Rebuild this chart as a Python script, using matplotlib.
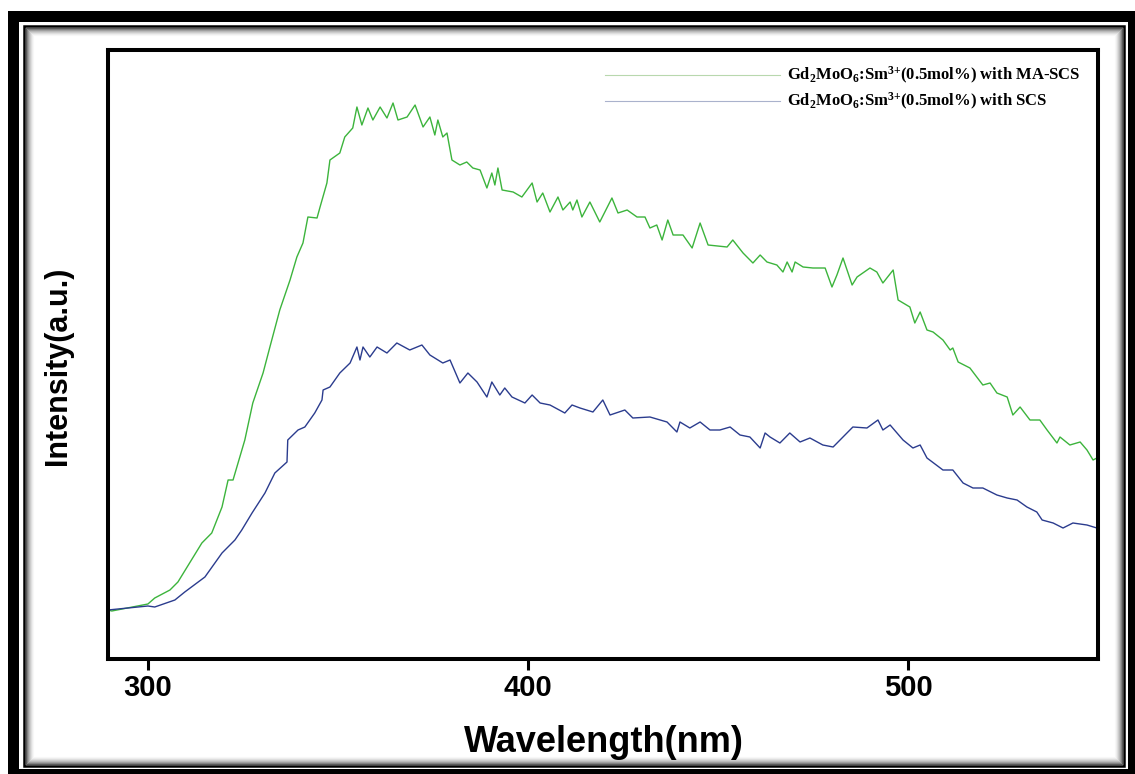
import numpy as np
import matplotlib
matplotlib.use("Agg")
import matplotlib.pyplot as plt
from matplotlib.patches import Rectangle
from matplotlib.lines import Line2D

plt.rcParams["mathtext.default"] = "regular"

# emission spectra (wavelength nm, intensity a.u.)
wl_ma = [289.5, 290.5, 300.0, 301.8, 305.8, 307.9, 314.2, 316.8, 319.5, 321.1, 322.4, 325.5,
         327.6, 330.3, 332.1, 334.7, 337.4, 339.2, 340.8, 342.1, 344.5, 345.3, 347.1, 347.9,
         350.5, 351.8, 353.9, 355.0, 356.3, 357.9, 359.2, 361.1, 362.9, 364.5, 365.8, 368.2,
         370.3, 372.4, 374.2, 375.5, 376.3, 377.6, 378.7, 380.0, 382.1, 383.9, 385.5, 387.4,
         389.2, 390.5, 391.3, 392.1, 393.2, 396.1, 398.4, 401.1, 402.4, 403.9, 405.8, 407.9,
         409.2, 411.1, 411.8, 412.9, 414.2, 416.3, 418.9, 422.1, 423.7, 426.1, 428.7, 430.8,
         432.1, 433.9, 435.3, 436.8, 438.2, 440.8, 443.2, 445.3, 447.4, 452.4, 453.9, 456.6,
         459.2, 461.1, 462.9, 465.5, 467.1, 468.2, 469.5, 470.3, 472.4, 475.0, 478.2, 480.0,
         481.3, 482.9, 485.3, 486.6, 490.0, 491.8, 493.4, 496.1, 497.4, 500.5, 501.8, 503.2,
         505.0, 506.6, 509.2, 511.1, 511.8, 513.2, 516.3, 519.7, 521.6, 523.4, 526.1, 527.6,
         529.5, 532.1, 534.7, 536.6, 539.2, 540.0, 542.6, 545.3, 547.1, 548.7, 549.7]
int_ma = [49, 48, 55, 61, 69, 77, 116, 126, 152, 179, 179, 219,
          256, 286, 312, 349, 379, 402, 416, 442, 441, 452, 476, 499,
          506, 522, 531, 552, 534, 551, 539, 552, 541, 556, 539, 542,
          554, 532, 542, 524, 539, 522, 526, 499, 494, 497, 491, 489,
          471, 486, 474, 491, 469, 467, 462, 476, 457, 466, 447, 462,
          449, 457, 449, 459, 442, 457, 437, 461, 446, 449, 442, 442,
          431, 434, 419, 439, 424, 424, 411, 436, 414, 412, 419, 406,
          396, 404, 397, 394, 387, 397, 387, 397, 392, 391, 391, 372,
          384, 401, 374, 382, 391, 387, 376, 389, 359, 352, 336, 347,
          329, 327, 319, 309, 311, 297, 291, 274, 276, 266, 262, 244,
          252, 239, 239, 229, 216, 222, 214, 217, 209, 199, 201]

wl_scs = [289.5, 300.0, 301.8, 307.1, 309.7, 315.0, 319.5, 322.9, 324.7, 327.4, 330.8, 333.4,
          336.6, 336.8, 339.5, 341.3, 343.9, 345.8, 346.1, 347.9, 350.5, 353.2, 355.0, 355.8,
          356.6, 358.4, 360.3, 362.9, 365.5, 368.9, 372.1, 374.2, 377.6, 379.5, 382.1, 384.2,
          386.6, 389.2, 390.5, 392.6, 393.9, 395.8, 399.2, 401.1, 403.2, 405.8, 409.7, 411.6,
          413.7, 417.1, 419.7, 421.6, 425.5, 427.6, 432.1, 436.6, 439.2, 440.0, 442.6, 445.3,
          447.9, 450.5, 453.2, 455.8, 458.4, 461.1, 462.4, 463.7, 466.3, 468.9, 471.6, 474.2,
          477.6, 480.3, 482.9, 485.5, 489.2, 492.1, 493.4, 495.3, 498.7, 501.3, 503.2, 505.0,
          509.2, 511.8, 514.5, 517.1, 519.7, 523.4, 526.1, 528.7, 531.3, 533.9, 535.3, 538.2,
          540.8, 543.4, 547.1, 549.7]
int_scs = [49, 53, 52, 59, 67, 82, 106, 119, 129, 146, 166, 186,
           197, 219, 229, 232, 246, 259, 269, 272, 286, 296, 312, 299,
           312, 302, 312, 306, 316, 309, 314, 304, 296, 299, 276, 286,
           277, 262, 277, 264, 271, 262, 256, 264, 256, 254, 246, 254,
           251, 247, 259, 244, 249, 241, 242, 237, 227, 237, 231, 237,
           229, 229, 232, 224, 222, 211, 226, 222, 216, 226, 217, 221,
           214, 212, 222, 232, 231, 239, 229, 234, 219, 211, 214, 201,
           189, 189, 176, 171, 171, 164, 161, 159, 152, 147, 139, 136,
           131, 136, 134, 131]

labels = [r"Gd$_2$MoO$_6$:Sm$^{3{+}}$(0.5mol%) with MA-SCS",
          r"Gd$_2$MoO$_6$:Sm$^{3{+}}$(0.5mol%) with SCS"]
xticks = [300, 400, 500]

W, H = 1135, 774
fig = plt.figure(figsize=(W / 100, H / 100), dpi=100)


def px(x0, y0, x1, y1, **kw):
    # rectangle given in picture pixels (y from top), kept behind the axes
    r = Rectangle((x0 / W, 1 - y1 / H), (x1 - x0) / W, (y1 - y0) / H,
                  transform=fig.transFigure, zorder=-5, **kw)
    fig.patches.append(r)


# picture frame with inner shadow
px(8, 11, 1140, 780, facecolor="black", edgecolor="none")
px(19, 22, 1128, 769, facecolor="white", edgecolor="none")
px(24, 26, 1124, 766, facecolor="none", edgecolor="black", linewidth=1.8)
for i, g in enumerate([0.35, 0.5, 0.62, 0.72, 0.8, 0.87, 0.93, 0.97]):
    px(26 + i, 28 + i, 1122 - i, 764 - i, facecolor="none",
       edgecolor=str(g), linewidth=0.8)

ax = fig.add_axes([108 / W, 1 - 659 / H, 990 / W, 609 / H])
ax.patch.set_alpha(0)
ax.plot(wl_ma, int_ma, color="#3cb43c", lw=1.0)
ax.plot(wl_scs, int_scs, color="#2b3c8e", lw=1.0)
ax.set_xlim(289.5, 550)
ax.set_ylim(0, 609)
ax.set_yticks([])
ax.set_xticks(xticks)
ax.tick_params(axis="x", direction="out", length=8, width=2.2, pad=3,
               labelsize=21)
for lab in ax.get_xticklabels():
    lab.set_fontfamily("Liberation Sans")
    lab.set_fontweight("bold")
for s in ax.spines.values():
    s.set_linewidth(2.9)

handles = [Line2D([], [], color="#b8d8ae", lw=0.8),
           Line2D([], [], color="#aab2cc", lw=0.8)]
ax.legend(handles, labels, loc="upper right", bbox_to_anchor=(0.982, 0.975),
          frameon=False, handlelength=10.5, handletextpad=0.4,
          labelspacing=0.3, borderpad=0, borderaxespad=0,
          prop={"family": "Liberation Serif", "weight": "bold", "size": 12})

fig.text(604 / W, 1 - 752 / H, "Wavelength(nm)", ha="center", va="baseline",
         fontsize=26, fontweight="bold", family="Liberation Sans")
fig.text(58 / W, 1 - 366 / H, "Intensity(a.u.)", ha="center", va="center",
         rotation=90, fontsize=22, fontweight="bold", family="Liberation Sans")

fig.savefig("out.png", dpi=100, facecolor="white")
